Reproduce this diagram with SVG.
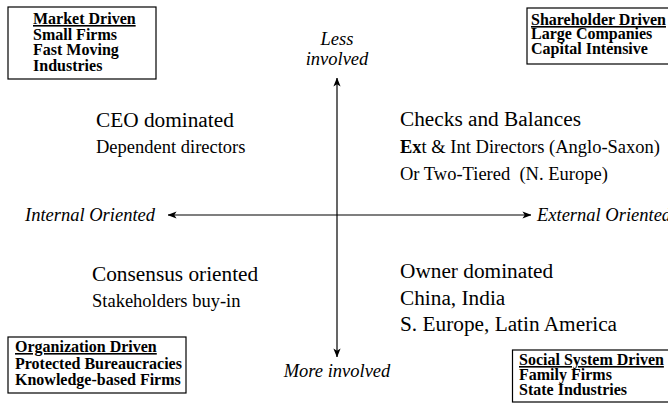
<svg xmlns="http://www.w3.org/2000/svg" width="668" height="406" viewBox="0 0 668 406">
<style>
text{font-family:"Liberation Serif","Times New Roman",Tinos,"DejaVu Serif",serif;fill:#000}
.box{fill:#fff;stroke:#000;stroke-width:1.2}
.bt{font-weight:bold;font-size:16px}
.big{font-size:21.3px}
.sm{font-size:18.5px}
.it{font-style:italic;font-size:18.5px}
.ax{stroke:#000;stroke-width:1.2;fill:none}
</style>
<defs>
<marker id="ah" viewBox="0 0 10 8" refX="9.5" refY="4" markerWidth="9" markerHeight="7.2" markerUnits="userSpaceOnUse" orient="auto-start-reverse">
<path d="M0,0 L10,4 L0,8 L2.5,4 z" fill="#000"/>
</marker>
</defs>
<rect width="668" height="406" fill="#fff"/>
<g id="connectors">
<line class="ax" x1="337" y1="357" x2="337" y2="78" marker-start="url(#ah)" marker-end="url(#ah)"/>
<line class="ax" x1="168" y1="215" x2="531" y2="215" marker-start="url(#ah)" marker-end="url(#ah)"/>
</g>
<g id="market-driven">
<rect class="box" x="8" y="7" width="148" height="72"/>
<text class="bt" x="33" y="24" text-decoration="underline">Market Driven</text>
<text class="bt" x="33" y="40">Small Firms</text>
<text class="bt" x="33" y="55">Fast Moving</text>
<text class="bt" x="33" y="71">Industries</text>
</g>
<g id="shareholder-driven">
<rect class="box" x="527" y="8" width="145" height="56"/>
<text class="bt" x="531" y="25" text-decoration="underline">Shareholder Driven</text>
<text class="bt" x="531" y="39">Large Companies</text>
<text class="bt" x="531" y="54">Capital Intensive</text>
</g>
<g id="organization-driven">
<rect class="box" x="8" y="337" width="178" height="56"/>
<text class="bt" x="15" y="352" text-decoration="underline">Organization Driven</text>
<text class="bt" x="15" y="369">Protected Bureaucracies</text>
<text class="bt" x="15" y="385">Knowledge-based Firms</text>
</g>
<g id="social-system-driven">
<rect class="box" x="512.5" y="350" width="160" height="52"/>
<text class="bt" x="519" y="365" text-decoration="underline">Social System Driven</text>
<text class="bt" x="519" y="380">Family Firms</text>
<text class="bt" x="519" y="395">State Industries</text>
</g>
<g id="less-involved">
<text class="it" x="337" y="45" text-anchor="middle">Less</text>
<text class="it" x="337" y="65" text-anchor="middle">involved</text>
</g>
<g id="more-involved">
<text class="it" x="337" y="377" text-anchor="middle">More involved</text>
</g>
<g id="internal-oriented">
<text class="it" x="25" y="221">Internal Oriented</text>
</g>
<g id="external-oriented">
<text class="it" x="537" y="221">External Oriented</text>
</g>
<g id="ceo-dominated">
<text class="big" x="96" y="127">CEO dominated</text>
<text class="sm" x="96" y="153">Dependent directors</text>
</g>
<g id="checks-and-balances">
<text class="big" x="400" y="126">Checks and Balances</text>
<text class="sm" x="400" y="153"><tspan font-weight="bold">Ex</tspan>t &amp; Int Directors (Anglo-Saxon)</text>
<text class="sm" x="400" y="180" xml:space="preserve">Or Two-Tiered  (N. Europe)</text>
</g>
<g id="consensus-oriented">
<text class="big" x="92" y="281">Consensus oriented</text>
<text class="sm" x="92" y="307">Stakeholders buy-in</text>
</g>
<g id="owner-dominated">
<text class="big" x="400" y="278">Owner dominated</text>
<text class="big" x="400" y="305">China, India</text>
<text class="big" x="400" y="331">S. Europe, Latin America</text>
</g>
</svg>
